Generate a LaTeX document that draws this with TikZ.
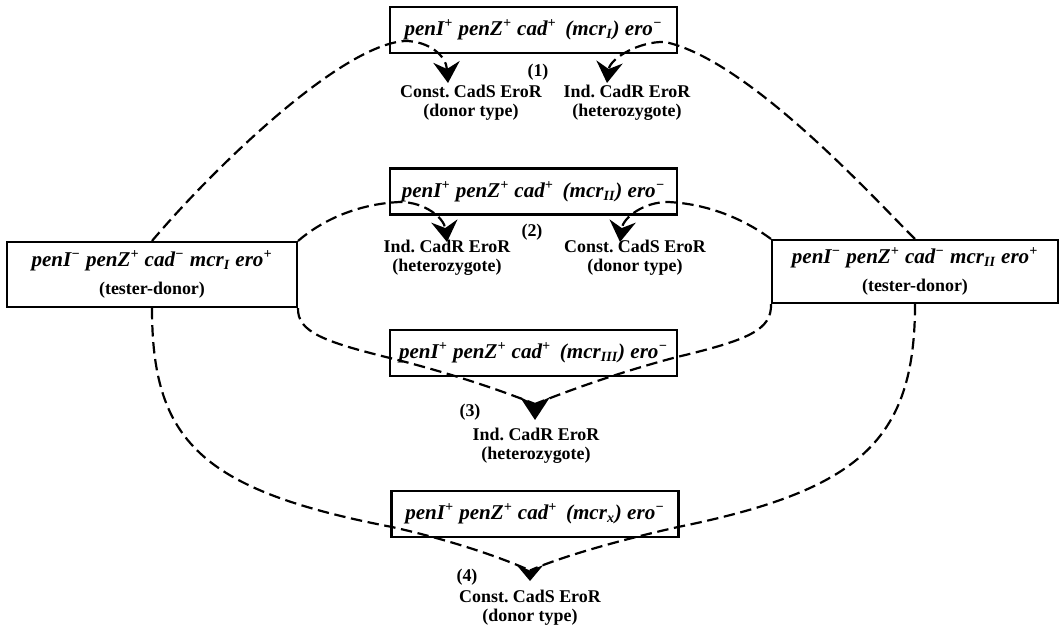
\documentclass[tikz,border=0pt]{standalone}
\usepackage{fontspec}
\setmainfont{Liberation Serif}
\usetikzlibrary{arrows.meta}
\newcommand{\gplus}{\textsuperscript{+}}
\newcommand{\gminus}{\textsuperscript{−}}
\frenchspacing

\begin{document}
\begin{tikzpicture}[
  x=0.02cm, y=-0.02cm,
  geno/.style={draw, line width=1.2pt, minimum width=5.74cm, minimum height=0.92cm, inner sep=2pt, font=\fontsize{12}{14}\selectfont\bfseries\itshape},
  donor/.style={draw, line width=1.2pt, align=center, inner sep=2pt, font=\fontsize{12}{15}\selectfont\bfseries\itshape},
  lab/.style={align=center, inner sep=0pt, font=\fontsize{10.2}{11}\selectfont\bfseries},
  cline/.style={line width=1.25pt, dash pattern=on 6.5pt off 3.2pt},
  head/.style={-{Stealth[length=12pt, width=15pt, inset=4pt]}},
  bighead/.style={line width=1.25pt, -{Stealth[length=13pt, width=17pt, inset=4pt]}},
  midhead/.style={line width=1.25pt, -{Stealth[length=9pt, width=15pt, inset=3pt]}}
]
\useasboundingbox (0,0) rectangle (1060,631);
\node[geno] (g1) at (533.5,30) {penI\gplus{} penZ\gplus{} cad\gplus{} \,(mcr\textsubscript{I}) ero\gminus};
\node[geno] (g2) at (533.5,191.5) {penI\gplus{} penZ\gplus{} cad\gplus{} \,(mcr\textsubscript{II}) ero\gminus};
\node[geno] (g3) at (533.5,353) {penI\gplus{} penZ\gplus{} cad\gplus{} \,(mcr\textsubscript{III}) ero\gminus};
\node[geno] (g4) at (535,514) {penI\gplus{} penZ\gplus{} cad\gplus{} \,(mcr\textsubscript{x}) ero\gminus};
\node[donor, minimum width=5.8cm, minimum height=1.3cm] (dl) at (152,274.5)
  {penI\gminus{} penZ\gplus{} cad\gminus{} mcr\textsubscript{I} ero\gplus\\[1pt]{\fontsize{10.2}{12}\selectfont\upshape (tester-donor)}};
\node[donor, minimum width=5.72cm, minimum height=1.26cm] (dr) at (915,271.5)
  {penI\gminus{} penZ\gplus{} cad\gminus{} mcr\textsubscript{II} ero\gplus\\[1pt]{\fontsize{10.2}{12}\selectfont\upshape (tester-donor)}};

\node[lab] (n1) at (538,72) {(1)};
\node[lab] (l1a) at (471,103) {Const. CadS EroR\\(donor type)};
\node[lab] (l1b) at (627,103) {Ind. CadR EroR\\(heterozygote)};
\node[lab] (n2) at (532,232) {(2)};
\node[lab] (l2a) at (447,258) {Ind. CadR EroR\\(heterozygote)};
\node[lab] (l2b) at (635,258) {Const. CadS EroR\\(donor type)};
\node[lab] (n3) at (470,412) {(3)};
\node[lab] (l3) at (536,446) {Ind. CadR EroR\\(heterozygote)};
\node[lab] (n4) at (467,577) {(4)};
\node[lab] (l4) at (530,608) {Const. CadS EroR\\(donor type)};

\coordinate (t1a) at (448,83);
\coordinate (t1b) at (607,83);
\coordinate (t2a) at (447,242);
\coordinate (t2b) at (620,242);
\coordinate (h3) at (535,404);
\coordinate (t3) at (535,420);
\coordinate (h4) at (530,570.5);
\coordinate (t4) at (530,581);

\draw[cline, head] (dl.north) .. controls (212,170) and (340,45) .. (405,41) .. controls (428,41) and (446,55) .. (t1a);
\draw[cline, head] (dr.north) .. controls (880,205) and (750,60) .. (665,42) .. controls (640,41) and (610,58) .. (t1b);
\draw[cline, head] (dl.north east) .. controls (320,222) and (355,204) .. (400,202) .. controls (425,202) and (444,218) .. (t2a);
\draw[cline, head] (dr.north west) .. controls (748,222) and (712,204) .. (668,202) .. controls (643,202) and (623,218) .. (t2b);
\draw[cline] (dl.south east) .. controls (297,332) and (325,342) .. (390,358) .. controls (450,373) and (500,390) .. (h3);
\draw[cline] (dr.south west) .. controls (772,330) and (748,340) .. (677,357) .. controls (620,372) and (570,390) .. (h3);
\draw[bighead] (h3) -- (t3);
\draw[cline] (dl.south) .. controls (152,440) and (200,490) .. (392,527) .. controls (450,540) and (500,557) .. (h4);
\draw[cline] (dr.south) .. controls (915,440) and (860,490) .. (678,527) .. controls (620,540) and (560,557) .. (h4);
\draw[midhead] (h4) -- (t4);
\end{tikzpicture}
\end{document}
